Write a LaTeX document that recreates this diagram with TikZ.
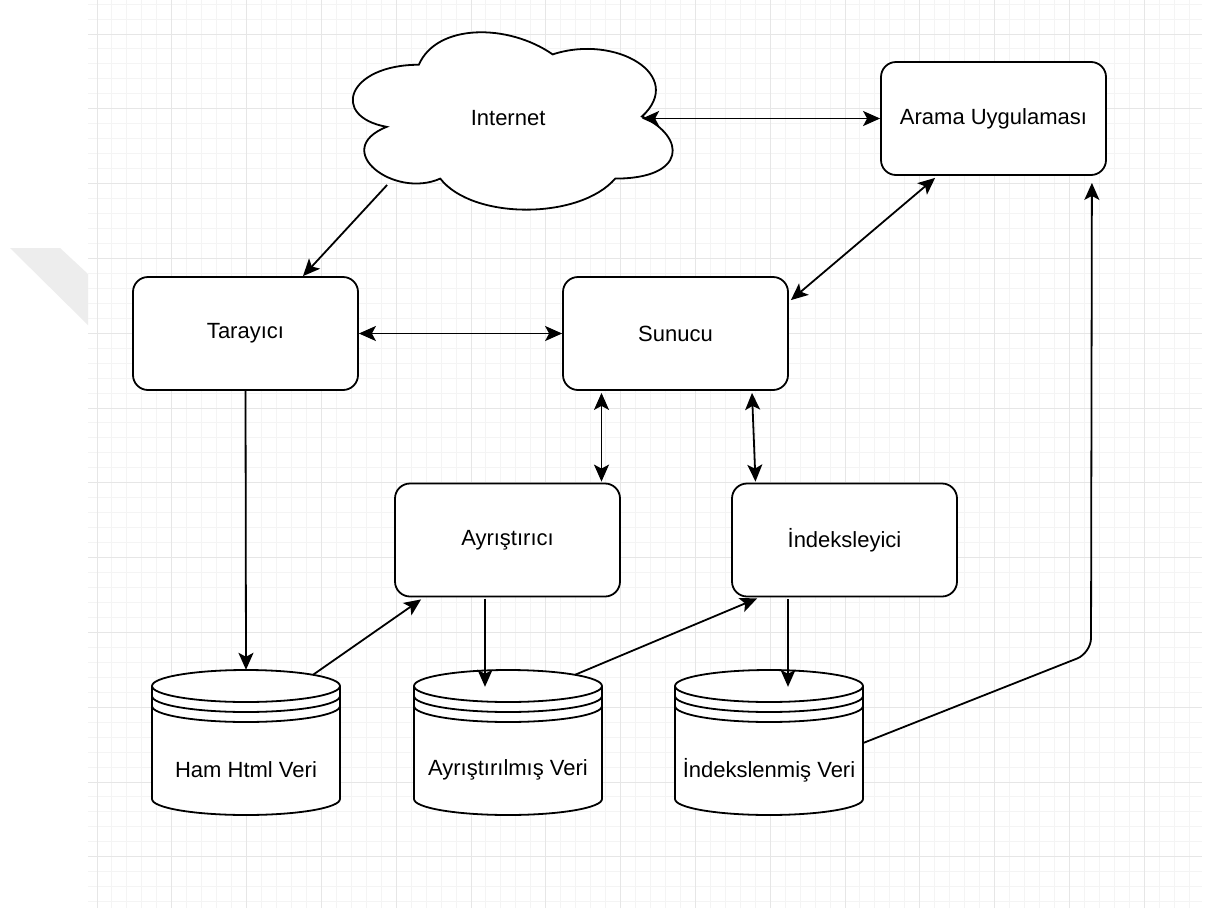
\documentclass[tikz,border=0pt]{standalone}
\usepackage{fontspec}
\setmainfont{Liberation Sans}
\usetikzlibrary{arrows.meta,calc}
\definecolor{gmaj}{HTML}{E6E6E6}
\definecolor{gmin}{HTML}{F4F4F4}
\definecolor{wmark}{HTML}{EDEDED}
\newcommand\dstore[4]{% name, cx, text-node name, text
  \begin{scope}[shift={(#2,0)}]
    \filldraw[fill=white, draw=black, line width=1.8pt]
      (-94,686) -- (-94,799) .. controls (-94,807.8) and (-51.9,815) .. (0,815)
      .. controls (51.9,815) and (94,807.8) .. (94,799) -- (94,686)
      .. controls (94,677.2) and (51.9,670) .. (0,670)
      .. controls (-51.9,670) and (-94,677.2) .. (-94,686) -- cycle;
    \foreach \d in {0,10,20}{
      \draw[line width=1.8pt] (-94,686+\d) .. controls (-94,694.8+\d) and (-51.9,702+\d) .. (0,702+\d)
        .. controls (51.9,702+\d) and (94,694.8+\d) .. (94,686+\d);
    }
  \end{scope}
  \node[cylnode] (#1) at (#2,742.5) {};
  \node[txt] (#3) at (#2,770) {#4};
}
\begin{document}
\begin{tikzpicture}[x=1pt,y=-1pt,
  font=\fontsize{22}{26}\selectfont,
  box/.style={draw=black, line width=1.8pt, fill=white, rounded corners=15pt,
    minimum width=225pt, minimum height=113pt, inner sep=0pt},
  cylnode/.style={inner sep=0pt, minimum width=188pt, minimum height=145pt},
  txt/.style={inner sep=0pt},
  tip/.tip={Stealth[length=17pt,width=15pt,inset=4pt]},
  arr/.style={line width=1.8pt, -tip},
  barr/.style={line width=1.8pt, tip-tip}]
\useasboundingbox (0,0) rectangle (1213,908);
\fill[white] (0,0) rectangle (1213,908);
% watermark
\fill[wmark] (10,248) -- (60,248) -- (88,274) -- (88,325) -- cycle;
% grid
\foreach \k in {0,...,73}{
  \pgfmathsetmacro\xx{97+14.96*\k}
  \draw[gmin, line width=1pt] (\xx,0) -- (\xx,908);
}
\foreach \k in {-2,...,58}{
  \pgfmathsetmacro\yy{34+14.96*\k}
  \draw[gmin, line width=1pt] (88,\yy) -- (1202,\yy);
}
\foreach \k in {0,...,14}{
  \pgfmathsetmacro\xx{97+74.8*\k}
  \draw[gmaj, line width=1pt] (\xx,0) -- (\xx,908);
}
\foreach \k in {0,...,11}{
  \pgfmathsetmacro\yy{34+74.8*\k}
  \draw[gmaj, line width=1pt] (88,\yy) -- (1202,\yy);
}
% cloud
\filldraw[fill=white, draw=black, line width=1.8pt]
  (418.85,64.75) .. controls (347.45,64.75) and (329.6,116.5) .. (386.72,126.85)
  .. controls (329.6,149.62) and (393.86,199.3) .. (440.27,178.6)
  .. controls (472.4,220) and (579.5,220) .. (615.2,178.6)
  .. controls (686.6,178.6) and (686.6,137.2) .. (642.0,116.5)
  .. controls (686.6,75.1) and (615.2,33.7) .. (552.7,54.4)
  .. controls (508.1,23.35) and (436.7,23.35) .. (418.85,64.75) -- cycle;
\node[txt, minimum width=357pt, minimum height=207pt] (inet) at (508.1,118) {Internet};
% boxes
\node[box] (arama) at (993.5,118.5) {Arama Uygulaması};
\node[box] (tar) at (245.5,333.5) {Tarayıcı};
\node[box] (sun) at (675.5,333.5) {Sunucu};
\node[box] (ayr) at (507.5,540) {Ayrıştırıcı};
\node[box] (idx) at (844.5,540) {İndeksleyici};
% data stores
\dstore{ham}{246}{hamt}{Ham Html Veri}
\dstore{ayrv}{508}{ayrvt}{Ayrıştırılmış Veri}
\dstore{idxv}{769}{idxvt}{İndekslenmiş Veri}
\coordinate (bend) at (1091,653);
% connectors
\draw[arr] ($(inet.center)+(-121,67)$) -- ($(tar.north)+(57.5,0)$);
\draw[barr] ($(inet.center)+(134,0.5)$) -- (arama.west);
\draw[barr] (tar.east) -- (sun.west);
\draw[barr] ($(sun.north east)+(2,24)$) -- ($(arama.south west)+(55,2)$);
\draw[barr] ($(sun.south)+(-74,2)$) -- ($(ayr.north)+(94,-1)$);
\draw[barr] ($(sun.south)+(76.5,2)$) -- ($(idx.north)+(-89,-1)$);
\draw[arr] (tar.south) -- (ham.north);
\draw[arr] ($(ham.north)+(67,5)$) -- ($(ayr.south west)+(27,2)$);
\draw[arr] ($(ayr.south)+(-22.5,2)$) -- ($(ayrv.north)+(-23,17)$);
\draw[arr] ($(ayrv.north)+(67,5)$) -- ($(idx.south west)+(26,1)$);
\draw[arr] ($(idx.south)+(-56.5,2)$) -- ($(idxv.north)+(19,17)$);
\draw[arr, rounded corners=15pt] ($(idxv.east)+(0,0.5)$) -- (bend) -- ($(arama.south east)+(-15,7)$);
\end{tikzpicture}
\end{document}
